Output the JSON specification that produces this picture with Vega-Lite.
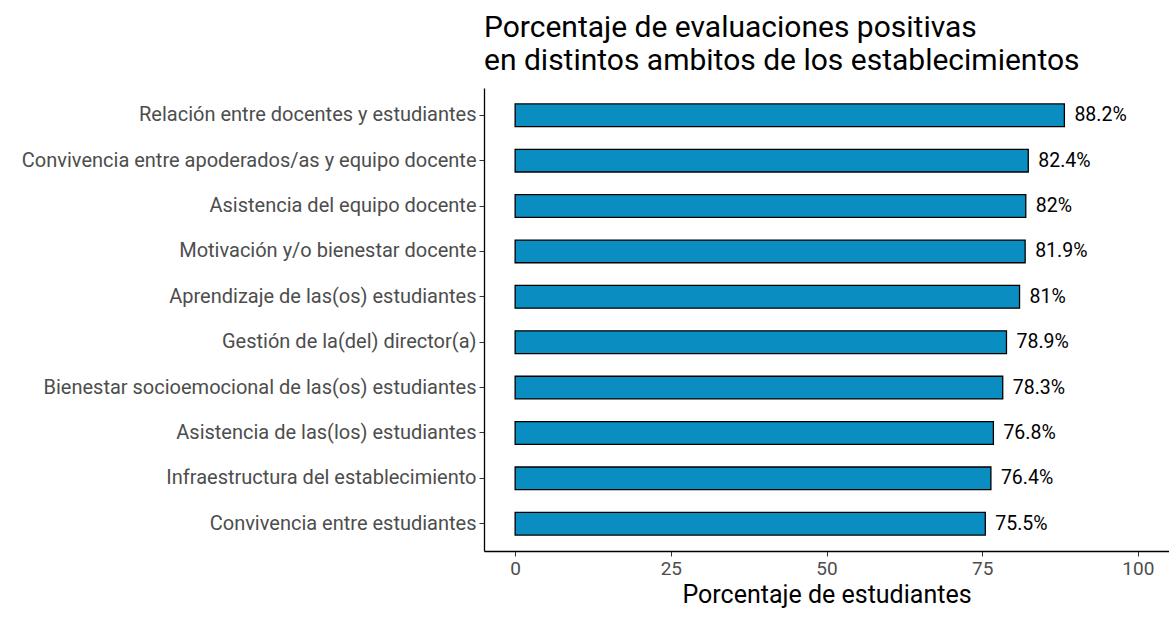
{
  "$schema": "https://vega.github.io/schema/vega-lite/v6.json",
  "autosize": "none",
  "width": 685,
  "height": 463,
  "padding": {"left": 484, "top": 88, "right": 0, "bottom": 66},
  "background": "white",
  "config": {
    "view": {"stroke": null},
    "font": "Roboto"
  },
  "title": {
    "text": ["Porcentaje de evaluaciones positivas", "en distintos ambitos de los establecimientos"],
    "anchor": "start",
    "frame": "group",
    "font": "Roboto",
    "fontSize": 30,
    "fontWeight": "normal",
    "color": "black",
    "lineHeight": 33,
    "offset": 12
  },
  "data": {
    "values": [
      {"ambito": "Relación entre docentes y estudiantes", "pct": 88.2},
      {"ambito": "Convivencia entre apoderados/as y equipo docente", "pct": 82.4},
      {"ambito": "Asistencia del equipo docente", "pct": 82},
      {"ambito": "Motivación y/o bienestar docente", "pct": 81.9},
      {"ambito": "Aprendizaje de las(os) estudiantes", "pct": 81},
      {"ambito": "Gestión de la(del) director(a)", "pct": 78.9},
      {"ambito": "Bienestar socioemocional de las(os) estudiantes", "pct": 78.3},
      {"ambito": "Asistencia de las(los) estudiantes", "pct": 76.8},
      {"ambito": "Infraestructura del establecimiento", "pct": 76.4},
      {"ambito": "Convivencia entre estudiantes", "pct": 75.5}
    ]
  },
  "transform": [{"calculate": "format(datum.pct, '~g') + '%'", "as": "label"}],
  "encoding": {
    "y": {
      "field": "ambito",
      "type": "nominal",
      "sort": null,
      "scale": {"paddingInner": 0.5, "paddingOuter": 0.35},
      "axis": {
        "title": null,
        "labelFont": "Roboto",
        "labelFontSize": 20,
        "labelColor": "#4d4d4d",
        "labelPadding": 3,
        "tickColor": "#333333",
        "tickSize": 5,
        "domainColor": "black",
        "domainWidth": 1.3,
        "labelLimit": 600
      }
    }
  },
  "layer": [
    {
      "mark": {"type": "bar", "fill": "#0a8ec2", "stroke": "black", "strokeWidth": 1.3},
      "encoding": {
        "x": {
          "field": "pct",
          "type": "quantitative",
          "scale": {"domain": [-5, 105], "nice": false, "zero": false},
          "axis": {
            "values": [0, 25, 50, 75, 100],
            "title": "Porcentaje de estudiantes",
            "titleFont": "Roboto",
            "titleFontSize": 25,
            "titleFontWeight": "normal",
            "titleColor": "black",
            "titlePadding": 4,
            "labelFont": "Roboto",
            "labelFontSize": 19,
            "labelColor": "#4d4d4d",
            "labelPadding": 3,
            "tickColor": "#333333",
            "tickSize": 5,
            "domainColor": "black",
            "domainWidth": 1.3,
            "grid": false
          }
        },
        "x2": {"datum": 0}
      }
    },
    {
      "mark": {"type": "text", "align": "left", "baseline": "middle", "dx": 10, "font": "Roboto", "fontSize": 19.5, "color": "black"},
      "encoding": {
        "x": {"field": "pct", "type": "quantitative"},
        "text": {"field": "label"}
      }
    }
  ]
}
